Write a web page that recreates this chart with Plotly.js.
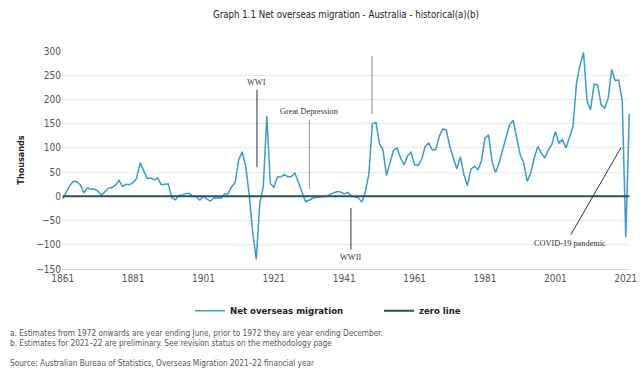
<!DOCTYPE html>
<html>
<head>
<meta charset="utf-8">
<script src="https://cdn.plot.ly/plotly-3.0.1.min.js"></script>
<style>
html,body{margin:0;padding:0;background:#fff;}
#chart{width:644px;height:374px;}
</style>
</head>
<body>
<div id="chart"></div>
<script>
// Year (year ending December before 1972, year ending June from 1972)
const firstYear = 1861;
const lastYear = 2022;
// Net overseas migration, thousands
const netMigration = [
  -5, 10, 22, 31, 30, 24, 8, 17, 15, 15,          // 1861-1870
  11, 2, 10, 17, 18, 23, 33, 21, 25, 24,           // 1871-1880
  28, 37, 69, 52, 37, 38, 34, 38, 24, 25,          // 1881-1890
  26, -3, -7, 2, 3, 6, 6, 0, -1, -8,               // 1891-1900
  1, -6, -10, -3, -3, -4, 5, 5, 20, 28,            // 1901-1910
  75, 92, 63, 3, -75, -130, -14, 20, 166, 26,      // 1911-1920
  19, 40, 40, 45, 40, 41, 48, 28, 10, -11,         // 1921-1930
  -8, -4, -2, -1, 0, 0, 4, 7, 10, 9,               // 1931-1940
  5, 8, 1, -1, -3, -12, 10, 46, 150, 153,          // 1941-1950
  109, 96, 43, 69, 95, 100, 79, 65, 84, 91,        // 1951-1960
  65, 64, 76, 103, 110, 96, 96, 124, 139, 137,     // 1961-1970
  103, 79, 57, 82, 45, 22, 56, 62, 55, 74,         // 1971-1980
  120, 127, 72, 49, 69, 96, 120, 148, 157, 124,    // 1981-1990
  86, 69, 31, 48, 79, 103, 89, 79, 96, 107,        // 1991-2000
  134, 110, 117, 100, 124, 144, 234, 271, 297, 196,// 2001-2010
  179, 232, 230, 189, 182, 203, 262, 239, 240, 196,// 2011-2020
  -85, 170                                         // 2021-2022
];
const zeroLineX = [1861, 2022];
const zeroLineY = [0, 0];
const xTickVals = [1861, 1881, 1901, 1921, 1941, 1961, 1981, 2001, 2021];
const yTickVals = [-150, -100, -50, 0, 50, 100, 150, 200, 250, 300];

// Event marker lines: [x0, y0, x1, y1]
const eventNames = ["WWI", "Great Depression", "", "WWII", "COVID-19 pandemic"];
const eventLines = [
  [1916.2, 220, 1916.2, 60],
  [1931.1, 158, 1931.1, 15],
  [1948.9, 290, 1948.9, 170],
  [1942.9, -24, 1942.9, -110],
  [2019.6, 100, 2005.4, -79]
];
const eventLabelPos = [
  [1916.2, 236],
  [1931.1, 176],
  null,
  [1942.9, -127],
  [2005.2, -97]
];
const eventLineColors = ["#333", "#999", "#888", "#333", "#333"];

const years = [];
for (let y = firstYear; y <= lastYear; y++) years.push(y);

const condensed = '"Liberation Sans Narrow", "DejaVu Sans Condensed", "Open Sans", sans-serif';

const traces = [
  {
    x: years, y: netMigration, type: 'scatter', mode: 'lines',
    name: 'Net overseas migration',
    line: {color: '#3a9ad6', width: 1.5},
    hoverinfo: 'x+y'
  },
  {
    x: zeroLineX, y: zeroLineY, type: 'scatter', mode: 'lines',
    name: 'zero line',
    line: {color: '#2a4f6e', width: 2},
    hoverinfo: 'skip'
  }
];

const shapes = eventLines.map((l, i) => ({
  type: 'line', xref: 'x', yref: 'y',
  x0: l[0], y0: l[1], x1: l[2], y1: l[3],
  line: {color: eventLineColors[i], width: 1}
}));

const annotations = [];
eventNames.forEach((n, i) => {
  if (!n || !eventLabelPos[i]) return;
  annotations.push({
    text: n, xref: 'x', yref: 'y', x: eventLabelPos[i][0], y: eventLabelPos[i][1],
    showarrow: false, xanchor: 'center', yanchor: 'middle',
    font: {family: '"Liberation Serif", "DejaVu Serif", serif', size: 8.3, color: '#333'}
  });
});

const footnotes = [
  ["a. Estimates from 1972 onwards are year ending June, prior to 1972 they are year ending December.", 333],
  ["b. Estimates for 2021–22 are preliminary. See revision status on the methodology page", 343],
  ["Source: Australian Bureau of Statistics, Overseas Migration 2021–22 financial year", 363]
];
const plotTop = 51, plotBottom = 269, plotLeft = 62, plotRight = 630;
footnotes.forEach(f => {
  annotations.push({
    text: f[0], xref: 'paper', yref: 'paper',
    x: (8 - plotLeft) / (plotRight - plotLeft),
    y: (plotBottom - f[1]) / (plotBottom - plotTop),
    xanchor: 'left', yanchor: 'middle', showarrow: false,
    font: {family: condensed, size: 8.2, color: '#555'}
  });
});

const layout = {
  width: 644, height: 374,
  margin: {l: plotLeft, r: 644 - plotRight, t: plotTop, b: 374 - plotBottom},
  paper_bgcolor: '#fff', plot_bgcolor: '#fff',
  title: {
    text: 'Graph 1.1 Net overseas migration - Australia - historical(a)(b)',
    x: 0.5, xref: 'paper', xanchor: 'center',
    y: 1 - 15 / 374, yref: 'container', yanchor: 'middle',
    font: {family: condensed, size: 9.6, color: '#222'}
  },
  xaxis: {
    range: [1860.8, 2022.2],
    tickvals: xTickVals,
    ticktext: xTickVals.map(String),
    showgrid: false, zeroline: false,
    showline: true, linecolor: '#ccd6eb', linewidth: 1,
    ticks: '', ticklen: 0,
    tickfont: {family: condensed, size: 10, color: '#555'}
  },
  yaxis: {
    range: [-150, 300],
    tickvals: yTickVals,
    showgrid: true, gridcolor: '#e6e6e6', gridwidth: 1,
    zeroline: false, showline: false,
    ticks: '',
    tickfont: {family: condensed, size: 10, color: '#555'},
    title: {text: 'Thousands', font: {family: condensed, size: 9, color: '#222', weight: 'bold'}, standoff: 10}
  },
  legend: {
    orientation: 'h', x: (190 - plotLeft) / (plotRight - plotLeft), xanchor: 'left',
    y: -(310.7 - plotBottom) / (plotBottom - plotTop), yanchor: 'middle',
    font: {family: condensed, size: 9.5, color: '#222', weight: 'bold'},
    entrywidth: 144, entrywidthmode: 'pixels'
  },
  showlegend: true,
  shapes: shapes,
  annotations: annotations
};

Plotly.newPlot('chart', traces, layout, {staticPlot: true, displayModeBar: false});
</script>
</body>
</html>
